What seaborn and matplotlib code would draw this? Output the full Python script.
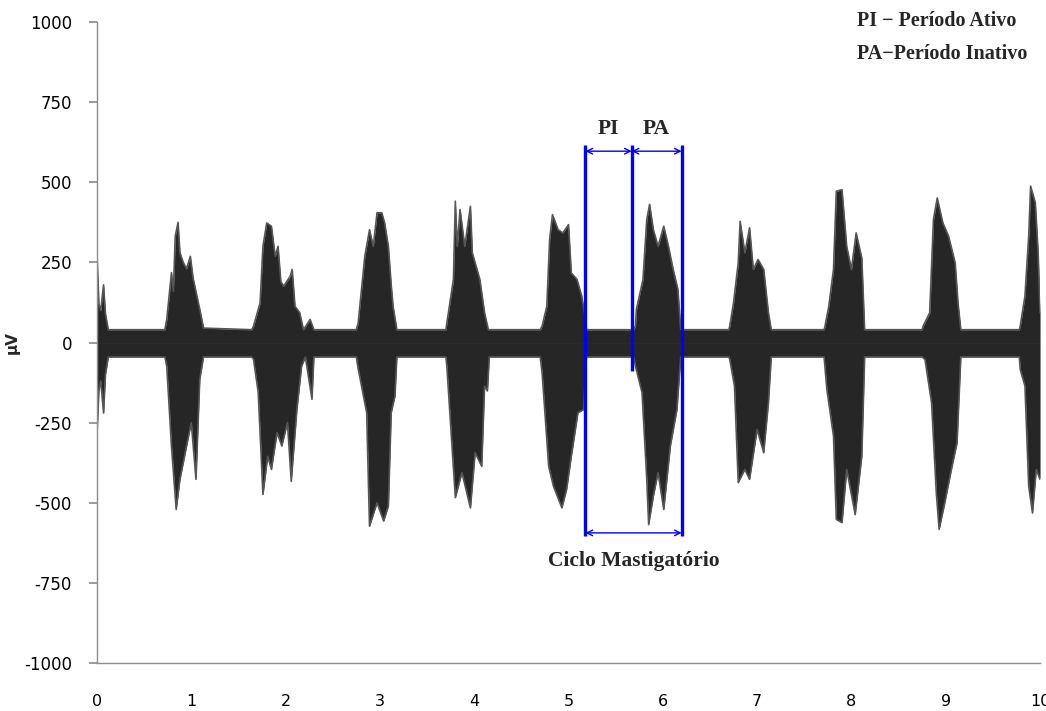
import matplotlib
matplotlib.use("Agg")
import matplotlib.pyplot as plt
import seaborn as sns

# EMG envelope (time in s, amplitude in uV)
# upper edge of the signal
upper_t = [0.00, 0.02, 0.04, 0.07, 0.09, 0.12,
           0.72, 0.74, 0.79, 0.81, 0.83, 0.86, 0.88, 0.915, 0.95, 0.99, 1.02, 1.06, 1.10, 1.13,
           1.64, 1.66, 1.73, 1.76, 1.80, 1.85, 1.89, 1.92, 1.95, 1.98, 2.05, 2.07, 2.10, 2.15, 2.19, 2.26, 2.30,
           2.75, 2.77, 2.84, 2.89, 2.93, 2.97, 3.02, 3.05, 3.09, 3.12, 3.14, 3.18,
           3.70, 3.71, 3.78, 3.80, 3.82, 3.85, 3.90, 3.96, 3.98, 4.01, 4.06, 4.11, 4.15,
           4.70, 4.72, 4.77, 4.80, 4.83, 4.89, 4.94, 5.00, 5.03, 5.09, 5.14, 5.17, 5.19,
           5.69, 5.71, 5.72, 5.79, 5.83, 5.86, 5.90, 5.95, 6.01, 6.06, 6.11, 6.16, 6.19,
           6.70, 6.71, 6.75, 6.80, 6.82, 6.87, 6.92, 6.96, 7.01, 7.07, 7.12, 7.15,
           7.71, 7.72, 7.76, 7.81, 7.84, 7.90, 7.95, 8.00, 8.05, 8.11, 8.14,
           8.75, 8.76, 8.83, 8.87, 8.91, 8.97, 9.03, 9.10, 9.13, 9.16,
           9.78, 9.79, 9.84, 9.88, 9.90, 9.95, 9.98, 10.0]
upper_v = [280, 120, 100, 180, 90, 40,
           40, 72, 218, 160, 332, 375, 280, 250, 230, 269, 200, 145, 90, 45,
           40, 51, 124, 300, 373, 363, 269, 300, 190, 176, 207, 228, 113, 93, 40, 72, 40,
           40, 61, 269, 352, 300, 405, 405, 374, 300, 180, 113, 40,
           40, 61, 197, 441, 300, 415, 300, 425, 280, 249, 197, 93, 40,
           40, 51, 113, 321, 399, 352, 342, 368, 217, 197, 145, 93, 40,
           40, 51, 103, 197, 384, 431, 352, 300, 363, 300, 228, 166, 40,
           40, 51, 124, 249, 378, 280, 358, 228, 259, 228, 93, 40,
           40, 51, 113, 228, 472, 477, 300, 228, 342, 264, 40,
           40, 51, 93, 384, 451, 373, 332, 249, 124, 40,
           40, 51, 145, 332, 488, 436, 280, 93]

# lower edge of the signal
lower_t = [0.00, 0.02, 0.04, 0.07, 0.09, 0.12,
           0.72, 0.74, 0.79, 0.84, 0.88, 0.95, 1.00, 1.05, 1.09, 1.13,
           1.64, 1.66, 1.71, 1.76, 1.81, 1.85, 1.91, 1.96, 2.02, 2.06, 2.12, 2.17, 2.21, 2.28, 2.30,
           2.75, 2.77, 2.86, 2.89, 2.97, 3.04, 3.09, 3.12, 3.16, 3.18,
           3.70, 3.71, 3.80, 3.87, 3.96, 4.01, 4.08, 4.11, 4.14, 4.16,
           4.70, 4.72, 4.79, 4.84, 4.93, 4.98, 5.03, 5.10, 5.16, 5.19,
           5.69, 5.71, 5.78, 5.83, 5.85, 5.90, 5.95, 6.01, 6.08, 6.15, 6.19,
           6.70, 6.71, 6.76, 6.80, 6.87, 6.92, 7.00, 7.07, 7.12, 7.15,
           7.71, 7.74, 7.81, 7.84, 7.90, 7.95, 8.04, 8.11, 8.14,
           8.75, 8.78, 8.85, 8.90, 8.93, 8.99, 9.06, 9.12, 9.16,
           9.78, 9.79, 9.84, 9.88, 9.92, 9.96, 10.0]
lower_v = [-290, -150, -120, -220, -100, -45,
           -45, -74, -323, -521, -427, -323, -250, -427, -115, -45,
           -45, -52, -156, -474, -355, -396, -281, -323, -250, -433, -209, -74, -45, -177, -45,
           -45, -82, -219, -573, -500, -557, -510, -219, -167, -45,
           -45, -74, -484, -406, -516, -344, -386, -136, -151, -45,
           -45, -94, -386, -448, -516, -458, -355, -219, -209, -45,
           -45, -74, -157, -427, -568, -479, -406, -521, -323, -209, -45,
           -45, -53, -136, -437, -396, -427, -271, -344, -188, -45,
           -45, -147, -292, -552, -562, -396, -537, -355, -45,
           -45, -53, -188, -469, -583, -500, -396, -313, -45,
           -45, -84, -136, -448, -532, -396, -427]

# annotation of one chewing cycle
cycle_lines = [5.18, 5.67, 6.20]
cycle_tops = [615, 615, 615]
cycle_bottoms = [-605, -90, -605]
xticks = list(range(0, 11))
yticks = [-1000, -750, -500, -250, 0, 250, 500, 750, 1000]

sns.set_theme(style="white")
plt.rcParams['font.family'] = ['DejaVu Sans']

fig = plt.figure(figsize=(10.46, 7.11), dpi=100)
ax = fig.add_axes([0.0927, 0.0675, 0.9016, 0.9015])

sig = "#262626"
ax.fill_between(upper_t, 0, upper_v, color=sig, lw=0)
ax.fill_between(lower_t, lower_v, 0, color=sig, lw=0)
sns.lineplot(x=upper_t, y=upper_v, ax=ax, color="#555555", lw=1.2, sort=False)
sns.lineplot(x=lower_t, y=lower_v, ax=ax, color="#555555", lw=1.2, sort=False)

blue = "#0000ff"
ax.vlines(cycle_lines, cycle_bottoms, cycle_tops, color=blue, lw=2.4, zorder=5)
arrow = dict(arrowstyle="<->", color=blue, lw=1.0, mutation_scale=10, shrinkA=0, shrinkB=0)
ax.annotate("", xy=(cycle_lines[0], 597), xytext=(cycle_lines[1], 597), arrowprops=arrow)
ax.annotate("", xy=(cycle_lines[1], 597), xytext=(cycle_lines[2], 597), arrowprops=arrow)
ax.annotate("", xy=(cycle_lines[0], -594), xytext=(cycle_lines[2], -594), arrowprops=arrow)

serif = dict(family="Liberation Serif", weight="bold", fontsize=15.5)
ax.text((cycle_lines[0] + cycle_lines[1]) / 2, 665, "PI", ha="center", va="center", **serif)
ax.text((cycle_lines[1] + cycle_lines[2]) / 2, 665, "PA", ha="center", va="center", **serif)
ax.text((cycle_lines[0] + cycle_lines[2]) / 2, -683, "Ciclo Mastigatório", ha="center", va="center", **serif)

fig.text(0.8195, 0.970, "PI − Período Ativo", family="Liberation Serif", weight="bold", fontsize=14.5, va="center")
fig.text(0.8195, 0.924, "PA−Período Inativo", family="Liberation Serif", weight="bold", fontsize=14.5, va="center")

ax.set_xlim(0, 10)
ax.set_ylim(-1000, 1000)
ax.set_xticks(xticks)
ax.set_yticks(yticks)
ax.set_xticklabels([str(v) for v in xticks], fontsize=11.5)
ax.set_yticklabels([str(v) for v in yticks], fontsize=12)
ax.set_ylabel("μV", fontsize=11, weight="bold")
ax.yaxis.set_label_coords(-0.082, 0.5)

for s in ["top", "right"]:
    ax.spines[s].set_visible(False)
for s in ["left", "bottom"]:
    ax.spines[s].set_color("#8c8c8c")
    ax.spines[s].set_linewidth(1.0)
ax.tick_params(axis="y", left=True, length=6, color="#8c8c8c", pad=12, labelcolor="black")
ax.tick_params(axis="x", bottom=False, pad=16, labelcolor="black")

fig.savefig("out.png", dpi=100)
